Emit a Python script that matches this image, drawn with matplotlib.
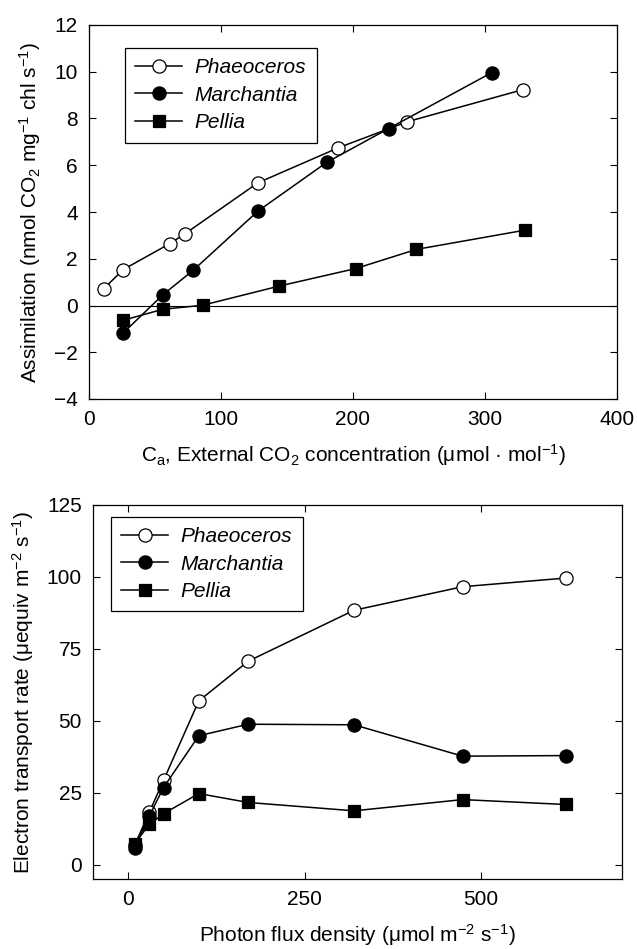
import matplotlib
matplotlib.use('Agg')
import matplotlib.pyplot as plt

plt.rcParams['font.family'] = ['Liberation Sans', 'DejaVu Sans']
plt.rcParams['mathtext.default'] = 'regular'

# Panel A: assimilation vs external CO2
ca_phaeo = [11, 26, 61, 73, 128, 189, 241, 329]
a_phaeo = [0.71, 1.54, 2.64, 3.08, 5.25, 6.75, 7.86, 9.24]
ca_march = [26, 56, 79, 128, 180, 227, 305]
a_march = [-1.17, 0.46, 1.51, 4.04, 6.12, 7.57, 9.96]
ca_pellia = [26, 56, 86, 144, 202, 248, 330]
a_pellia = [-0.63, -0.16, 0.01, 0.83, 1.58, 2.40, 3.22]

# Panel B: electron transport vs photon flux density
pfd = [9, 30, 50, 100, 170, 320, 474, 620]
etr_phaeo = [6.7, 18.3, 29.3, 56.9, 70.7, 88.4, 96.6, 99.6]
etr_march = [5.9, 17.0, 26.8, 44.8, 48.8, 48.6, 37.7, 37.9]
etr_pellia = [7.3, 14.0, 17.7, 24.7, 21.6, 18.7, 22.6, 20.9]

names = ['Phaeoceros', 'Marchantia', 'Pellia']
fs = 15

fig = plt.figure(figsize=(6.37, 9.49), dpi=100)
ax1 = fig.add_axes([89/637, 1-399/949, 528/637, 374/949])
ax2 = fig.add_axes([93/637, 1-879/949, 529/637, 374/949])

def style(ax):
    ax.tick_params(direction='in', length=5, width=0.8, top=True, right=True,
                   labelsize=fs, pad=8, colors='black')
    for s in ax.spines.values():
        s.set_linewidth(0.9)

def series(ax, x, y, marker, face, label):
    ax.plot(x, y, color='black', lw=1.1, marker=marker, ms=9.5 if marker == 'o' else 8.5,
            mfc=face, mec='black', mew=0.9, label=label)

series(ax1, ca_phaeo, a_phaeo, 'o', 'white', names[0])
series(ax1, ca_march, a_march, 'o', 'black', names[1])
series(ax1, ca_pellia, a_pellia, 's', 'black', names[2])
ax1.axhline(0, color='black', lw=0.8, zorder=0)
ax1.set_xlim(0, 400)
ax1.set_ylim(-4, 12)
ax1.set_xticks([0, 100, 200, 300, 400])
ax1.set_yticks(range(-4, 13, 2))
ax1.set_yticklabels(['\u22124', '\u22122', '0', '2', '4', '6', '8', '10', '12'])
ax1.set_xlabel('C$_a$, External CO$_2$ concentration (\u03bcmol \u00b7 mol$^{-1}$)',
               fontsize=fs, labelpad=9)
ax1.set_ylabel('Assimilation (nmol CO$_2$ mg$^{-1}$ chl s$^{-1}$)', fontsize=fs, labelpad=8)
style(ax1)

series(ax2, pfd, etr_phaeo, 'o', 'white', names[0])
series(ax2, pfd, etr_march, 'o', 'black', names[1])
series(ax2, pfd, etr_pellia, 's', 'black', names[2])
ax2.set_xlim(-50, 700)
ax2.set_ylim(-5, 125)
ax2.set_xticks([0, 250, 500])
ax2.set_yticks([0, 25, 50, 75, 100, 125])
ax2.set_xlabel('Photon flux density (\u03bcmol m$^{-2}$ s$^{-1}$)', fontsize=fs, labelpad=9)
ax2.set_ylabel('Electron transport rate (\u03bcequiv m$^{-2}$ s$^{-1}$)', fontsize=fs, labelpad=8)
style(ax2)

for ax, anchor in [(ax1, (0.068, 0.9385)), (ax2, (0.034, 0.968))]:
    leg = ax.legend(loc='upper left', bbox_to_anchor=anchor, borderaxespad=0,
                    fancybox=False, edgecolor='black', framealpha=1,
                    prop={'style': 'italic', 'size': fs}, handlelength=2.25,
                    labelspacing=0.4, borderpad=0.5, handletextpad=0.6)
    leg.get_frame().set_linewidth(0.9)

fig.savefig('out.png', dpi=100)
